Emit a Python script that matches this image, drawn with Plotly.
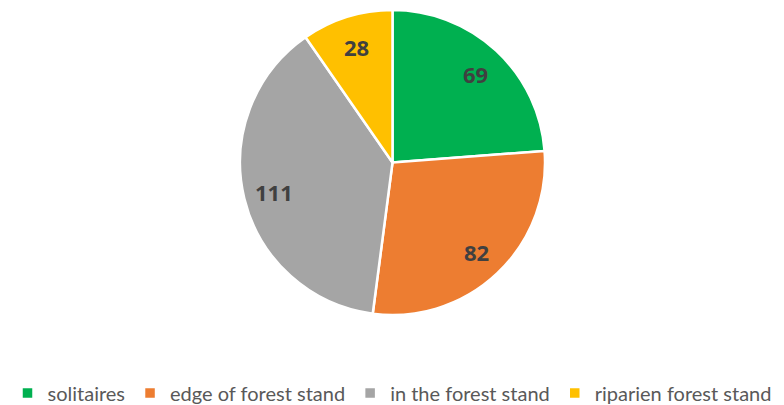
import math
import plotly.graph_objects as go

categories = ["solitaires", "edge of forest stand", "in the forest stand", "riparien forest stand"]
values = [69, 82, 111, 28]
colors = ["#00B050", "#ED7D31", "#A5A5A5", "#FFC000"]

W, H = 784, 405
cx, cy, R = 392.5, 162.5, 152.5
LABEL_R = 0.8

fig = go.Figure(go.Pie(
    labels=categories,
    values=values,
    sort=False,
    direction="clockwise",
    rotation=0,
    marker=dict(colors=colors, line=dict(color="white", width=2.5)),
    textinfo="none",
    domain=dict(x=[(cx - R) / W, (cx + R) / W], y=[1 - (cy + R) / H, 1 - (cy - R) / H]),
    hoverinfo="label+value",
))

# value labels placed along each slice's mid-angle (clockwise from 12 o'clock)
total = sum(values)
cum = 0
annotations = []
for v in values:
    mid = (cum + v / 2) / total * 2 * math.pi
    cum += v
    px = cx + LABEL_R * R * math.sin(mid)
    py = cy - LABEL_R * R * math.cos(mid)
    annotations.append(dict(
        x=px / W, y=1 - py / H, xref="paper", yref="paper",
        text=str(v), showarrow=False,
        xanchor="center", yanchor="middle", yshift=-1,
        font=dict(family="Open Sans", size=22, color="#404040", weight="bold"),
    ))

fig.update_layout(
    width=W, height=H,
    margin=dict(l=0, r=0, t=0, b=0, autoexpand=False),
    paper_bgcolor="white",
    plot_bgcolor="white",
    showlegend=True,
    annotations=annotations,
    legend=dict(
        orientation="h",
        xref="container", yref="container",
        x=0.5, xanchor="center",
        y=(H - 393) / H, yanchor="middle",
        font=dict(family="Lato", size=20, color="#595959"),
        itemwidth=30,
        traceorder="normal",
    ),
)

fig.write_html("out.html", config={"displayModeBar": False},
               post_script="document.body.style.margin='0';")
